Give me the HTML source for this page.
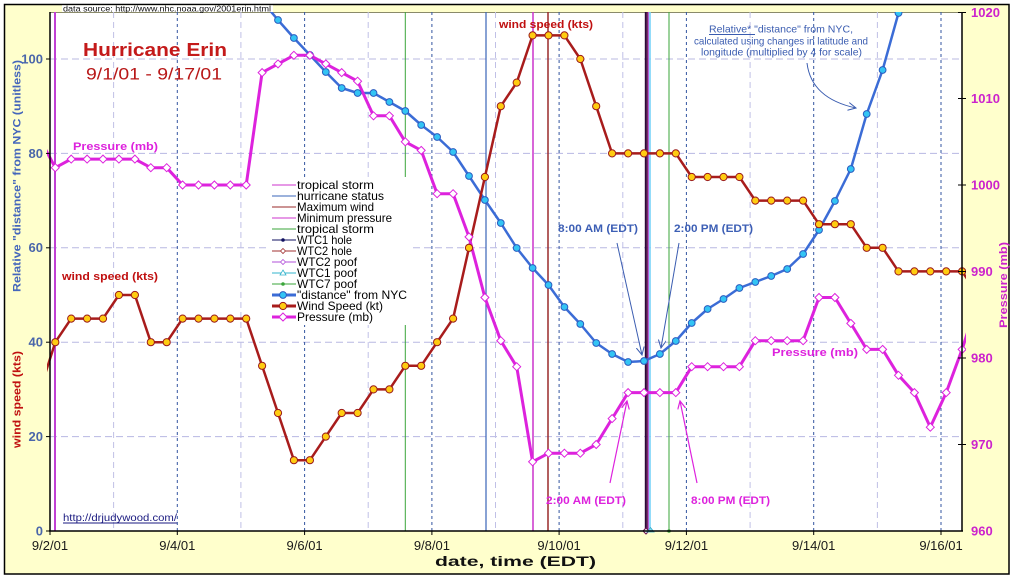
<!DOCTYPE html>
<html><head><meta charset="utf-8"><style>
html,body{margin:0;padding:0;background:#fff;}
svg{display:block;font-family:"Liberation Sans",sans-serif;}
</style></head><body>
<svg width="1015" height="579" viewBox="0 0 1015 579" xmlns="http://www.w3.org/2000/svg">
<defs>
<clipPath id="pc"><rect x="47" y="12" width="919" height="519"/></clipPath>
<symbol id="dm" overflow="visible"><polygon points="0,-4 4,0 0,4 -4,0" fill="#fff" stroke="#dd22dd" stroke-width="1"/></symbol>
<symbol id="wc" overflow="visible"><circle r="3.6" fill="#ffcc11" stroke="#9a1a1a" stroke-width="1"/></symbol>
<symbol id="dc" overflow="visible"><circle r="3.4" fill="#33c4f4" stroke="#2a5cc0" stroke-width="1"/></symbol>
<marker id="ab" markerWidth="10" markerHeight="10" refX="8" refY="4" orient="auto" markerUnits="userSpaceOnUse"><path d="M0,0 L8,4 L0,8" fill="none" stroke="#3a5cb0" stroke-width="1"/></marker>
<marker id="am" markerWidth="10" markerHeight="10" refX="8" refY="4" orient="auto" markerUnits="userSpaceOnUse"><path d="M0,0 L8,4 L0,8" fill="none" stroke="#dd22dd" stroke-width="1.2"/></marker>
</defs>

<!-- frame -->
<rect x="4.5" y="4.5" width="1004.5" height="569.5" fill="#ffffcc" stroke="#000" stroke-width="1.5"/>
<rect x="50" y="12" width="912" height="519" fill="#fff"/>
<line x1="50" y1="12.5" x2="962" y2="12.5" stroke="#8a8a6a" stroke-width="1"/>

<!-- data source box -->
<rect x="62" y="5.3" width="211" height="6.7" fill="#fff"/>
<text x="63" y="11.5" font-size="8.5" fill="#111" textLength="208" lengthAdjust="spacingAndGlyphs">data source: http://www.nhc.noaa.gov/2001erin.html</text>

<!-- horizontal grid -->
<g stroke="#b8b8e2" stroke-width="1" stroke-dasharray="7,4">
<line x1="50" y1="436.6" x2="962" y2="436.6"/>
<line x1="50" y1="342.2" x2="962" y2="342.2"/>
<line x1="50" y1="247.8" x2="962" y2="247.8"/>
<line x1="50" y1="153.4" x2="962" y2="153.4"/>
<line x1="50" y1="59" x2="962" y2="59"/>
</g>
<!-- minor vertical -->
<g stroke="#c0c0e6" stroke-width="1" stroke-dasharray="6,4">
<line x1="113.6" y1="12" x2="113.6" y2="531"/>
<line x1="240.9" y1="12" x2="240.9" y2="531"/>
<line x1="368.2" y1="12" x2="368.2" y2="531"/>
<line x1="495.5" y1="12" x2="495.5" y2="531"/>
<line x1="622.8" y1="12" x2="622.8" y2="531"/>
<line x1="750.1" y1="12" x2="750.1" y2="531"/>
<line x1="877.4" y1="12" x2="877.4" y2="531"/>
</g>
<!-- major vertical -->
<g stroke="#3355a0" stroke-width="1" stroke-dasharray="3,3">
<line x1="177.3" y1="12" x2="177.3" y2="531"/>
<line x1="304.6" y1="12" x2="304.6" y2="531"/>
<line x1="431.9" y1="12" x2="431.9" y2="531"/>
<line x1="559.1" y1="12" x2="559.1" y2="531"/>
<line x1="686.4" y1="12" x2="686.4" y2="531"/>
<line x1="813.7" y1="12" x2="813.7" y2="531"/>
<line x1="941" y1="12" x2="941" y2="531"/>
</g>

<!-- event lines -->
<line x1="55" y1="12" x2="55" y2="531" stroke="#c040d4" stroke-width="2"/>
<line x1="405.3" y1="12" x2="405.3" y2="531" stroke="#3aa53a" stroke-width="1"/>
<line x1="486" y1="12" x2="486" y2="531" stroke="#3a64b8" stroke-width="1.2"/>
<line x1="533" y1="12" x2="533" y2="531" stroke="#cc33cc" stroke-width="1.5"/>
<line x1="548" y1="12" x2="548" y2="531" stroke="#9a2a2a" stroke-width="1.5"/>
<line x1="645.8" y1="12" x2="645.8" y2="531" stroke="#2a0838" stroke-width="2"/>
<line x1="647.3" y1="12" x2="647.3" y2="531" stroke="#6a1050" stroke-width="1.2"/>
<line x1="648.5" y1="12" x2="648.5" y2="531" stroke="#b060d8" stroke-width="1.2"/>
<line x1="650" y1="12" x2="650" y2="531" stroke="#78d4f8" stroke-width="1.6"/>
<line x1="669" y1="12" x2="669" y2="531" stroke="#3aa53a" stroke-width="1"/>
<polygon points="646,528 649,531 646,534 643,531" fill="#fff" stroke="#6a1050" stroke-width="1"/>
<polygon points="650.5,527.5 654,532 647,532" fill="#88e0f0" stroke="#33aacc" stroke-width="0.8"/>
<circle cx="669" cy="531" r="1.8" fill="#3aa53a"/>

<!-- legend -->
<rect x="266" y="177" width="146" height="148" fill="#fff"/>
<g stroke-width="1">
<line x1="272" y1="185" x2="296" y2="185" stroke="#cc33cc"/>
<line x1="272" y1="196" x2="296" y2="196" stroke="#3a64b8"/>
<line x1="272" y1="207" x2="296" y2="207" stroke="#9a2a2a"/>
<line x1="272" y1="218" x2="296" y2="218" stroke="#cc33cc"/>
<line x1="272" y1="229" x2="296" y2="229" stroke="#3aa53a"/>
<line x1="272" y1="240" x2="296" y2="240" stroke="#101060"/>
<line x1="272" y1="251" x2="296" y2="251" stroke="#a03030"/>
<line x1="272" y1="262" x2="296" y2="262" stroke="#b050d8"/>
<line x1="272" y1="273" x2="296" y2="273" stroke="#33b4cc"/>
<line x1="272" y1="284" x2="296" y2="284" stroke="#3aa53a"/>
</g>
<circle cx="283" cy="240" r="1.8" fill="#101060"/>
<polygon points="283,248.5 285.5,251 283,253.5 280.5,251" fill="#fff" stroke="#a03030" stroke-width="0.8"/>
<polygon points="283,259.5 285.5,262 283,264.5 280.5,262" fill="#fff" stroke="#b050d8" stroke-width="0.8"/>
<polygon points="283,270 286,275 280,275" fill="#fff" stroke="#33b4cc" stroke-width="0.8"/>
<circle cx="283" cy="284" r="1.8" fill="#3aa53a"/>
<line x1="272" y1="295" x2="296" y2="295" stroke="#3b6cd6" stroke-width="3"/>
<use href="#dc" x="283" y="295"/>
<line x1="272" y1="306" x2="296" y2="306" stroke="#a81c1c" stroke-width="3"/>
<use href="#wc" x="283" y="306"/>
<line x1="272" y1="317" x2="296" y2="317" stroke="#dd22dd" stroke-width="3"/>
<use href="#dm" x="283" y="317"/>
<g font-size="12" fill="#000">
<text x="297" y="189" textLength="77" lengthAdjust="spacingAndGlyphs">tropical storm</text>
<text x="297" y="200" textLength="87" lengthAdjust="spacingAndGlyphs">hurricane status</text>
<text x="297" y="211" textLength="77" lengthAdjust="spacingAndGlyphs">Maximum wind</text>
<text x="297" y="222" textLength="95" lengthAdjust="spacingAndGlyphs">Minimum pressure</text>
<text x="297" y="233" textLength="77" lengthAdjust="spacingAndGlyphs">tropical storm</text>
<text x="297" y="244" textLength="55" lengthAdjust="spacingAndGlyphs">WTC1 hole</text>
<text x="297" y="255" textLength="55" lengthAdjust="spacingAndGlyphs">WTC2 hole</text>
<text x="297" y="266" textLength="60" lengthAdjust="spacingAndGlyphs">WTC2 poof</text>
<text x="297" y="277" textLength="60" lengthAdjust="spacingAndGlyphs">WTC1 poof</text>
<text x="297" y="288" textLength="60" lengthAdjust="spacingAndGlyphs">WTC7 poof</text>
<text x="297" y="299" textLength="110" lengthAdjust="spacingAndGlyphs">"distance" from NYC</text>
<text x="297" y="310" textLength="86" lengthAdjust="spacingAndGlyphs">Wind Speed (kt)</text>
<text x="297" y="321" textLength="76" lengthAdjust="spacingAndGlyphs">Pressure (mb)</text>
</g>

<!-- series -->
<g clip-path="url(#pc)" fill="none" stroke-linejoin="round">
<polyline stroke="#3b6cd6" stroke-width="2.5" points="262.1,1 278.0,20 293.9,38 309.9,55 325.8,72 341.7,88 357.6,93 373.5,93 389.4,102 405.3,111 421.2,125 437.1,137 453.1,152 469.0,176 484.9,200 500.8,223 516.7,248 532.6,268 548.5,285 564.4,307 580.3,324 596.2,343 612.1,354 628.1,362 644.0,361 659.9,354 675.8,341 691.7,323 707.6,309 723.5,299 739.4,288 755.3,282 771.2,276 787.2,269 803.1,254 819.0,230 834.9,201 850.8,169 866.7,114 882.6,70 898.5,13 914.4,-50"/>
<polyline stroke="#a81c1c" stroke-width="2.5" points="39.4,392 55.3,342.2 71.2,318.6 87.1,318.6 103.0,318.6 118.9,295 134.9,295 150.8,342.2 166.7,342.2 182.6,318.6 198.5,318.6 214.4,318.6 230.3,318.6 246.2,318.6 262.1,365.8 278.0,413 293.9,460.2 309.9,460.2 325.8,436.6 341.7,413 357.6,413 373.5,389.4 389.4,389.4 405.3,365.8 421.2,365.8 437.1,342.2 453.1,318.6 469.0,247.8 484.9,177 500.8,106.2 516.7,82.6 532.6,35.4 548.5,35.4 564.4,35.4 580.3,59 596.2,106.2 612.1,153.4 628.1,153.4 644.0,153.4 659.9,153.4 675.8,153.4 691.7,177 707.6,177 723.5,177 739.4,177 755.3,200.6 771.2,200.6 787.2,200.6 803.1,200.6 819.0,224.2 834.9,224.2 850.8,224.2 866.7,247.8 882.6,247.8 898.5,271.4 914.4,271.4 930.3,271.4 946.2,271.4 962.1,271.4 978.0,295"/>
<polyline stroke="#dd22dd" stroke-width="3" points="39.4,138 55.3,167.7 71.2,159.1 87.1,159.1 103.0,159.1 118.9,159.1 134.9,159.1 150.8,167.7 166.7,167.7 182.6,185 198.5,185 214.4,185 230.3,185 246.2,185 262.1,72.6 278.0,63.9 293.9,55.3 309.9,55.3 325.8,63.9 341.7,72.6 357.6,81.2 373.5,115.8 389.4,115.8 405.3,141.8 421.2,150.4 437.1,193.7 453.1,193.7 469.0,236.9 484.9,297.5 500.8,340.7 516.7,366.7 532.6,461.8 548.5,453.2 564.4,453.2 580.3,453.2 596.2,444.5 612.1,418.6 628.1,392.6 644.0,392.6 659.9,392.6 675.8,392.6 691.7,366.7 707.6,366.7 723.5,366.7 739.4,366.7 755.3,340.7 771.2,340.7 787.2,340.7 803.1,340.7 819.0,297.5 834.9,297.5 850.8,323.4 866.7,349.4 882.6,349.4 898.5,375.3 914.4,392.6 930.3,427.2 946.2,392.6 962.1,349.4 978.0,300"/>
</g>
<g clip-path="url(#pc)">
<!-- distance markers -->
<use href="#dc" x="278.0" y="20"/><use href="#dc" x="293.9" y="38"/><use href="#dc" x="309.9" y="55"/><use href="#dc" x="325.8" y="72"/><use href="#dc" x="341.7" y="88"/><use href="#dc" x="357.6" y="93"/><use href="#dc" x="373.5" y="93"/><use href="#dc" x="389.4" y="102"/><use href="#dc" x="405.3" y="111"/><use href="#dc" x="421.2" y="125"/><use href="#dc" x="437.1" y="137"/><use href="#dc" x="453.1" y="152"/><use href="#dc" x="469.0" y="176"/><use href="#dc" x="484.9" y="200"/><use href="#dc" x="500.8" y="223"/><use href="#dc" x="516.7" y="248"/><use href="#dc" x="532.6" y="268"/><use href="#dc" x="548.5" y="285"/><use href="#dc" x="564.4" y="307"/><use href="#dc" x="580.3" y="324"/><use href="#dc" x="596.2" y="343"/><use href="#dc" x="612.1" y="354"/><use href="#dc" x="628.1" y="362"/><use href="#dc" x="644.0" y="361"/><use href="#dc" x="659.9" y="354"/><use href="#dc" x="675.8" y="341"/><use href="#dc" x="691.7" y="323"/><use href="#dc" x="707.6" y="309"/><use href="#dc" x="723.5" y="299"/><use href="#dc" x="739.4" y="288"/><use href="#dc" x="755.3" y="282"/><use href="#dc" x="771.2" y="276"/><use href="#dc" x="787.2" y="269"/><use href="#dc" x="803.1" y="254"/><use href="#dc" x="819.0" y="230"/><use href="#dc" x="834.9" y="201"/><use href="#dc" x="850.8" y="169"/><use href="#dc" x="866.7" y="114"/><use href="#dc" x="882.6" y="70"/><use href="#dc" x="898.5" y="13"/>
<!-- wind markers -->
<use href="#wc" x="55.3" y="342.2"/><use href="#wc" x="71.2" y="318.6"/><use href="#wc" x="87.1" y="318.6"/><use href="#wc" x="103.0" y="318.6"/><use href="#wc" x="118.9" y="295"/><use href="#wc" x="134.9" y="295"/><use href="#wc" x="150.8" y="342.2"/><use href="#wc" x="166.7" y="342.2"/><use href="#wc" x="182.6" y="318.6"/><use href="#wc" x="198.5" y="318.6"/><use href="#wc" x="214.4" y="318.6"/><use href="#wc" x="230.3" y="318.6"/><use href="#wc" x="246.2" y="318.6"/><use href="#wc" x="262.1" y="365.8"/><use href="#wc" x="278.0" y="413"/><use href="#wc" x="293.9" y="460.2"/><use href="#wc" x="309.9" y="460.2"/><use href="#wc" x="325.8" y="436.6"/><use href="#wc" x="341.7" y="413"/><use href="#wc" x="357.6" y="413"/><use href="#wc" x="373.5" y="389.4"/><use href="#wc" x="389.4" y="389.4"/><use href="#wc" x="405.3" y="365.8"/><use href="#wc" x="421.2" y="365.8"/><use href="#wc" x="437.1" y="342.2"/><use href="#wc" x="453.1" y="318.6"/><use href="#wc" x="469.0" y="247.8"/><use href="#wc" x="484.9" y="177"/><use href="#wc" x="500.8" y="106.2"/><use href="#wc" x="516.7" y="82.6"/><use href="#wc" x="532.6" y="35.4"/><use href="#wc" x="548.5" y="35.4"/><use href="#wc" x="564.4" y="35.4"/><use href="#wc" x="580.3" y="59"/><use href="#wc" x="596.2" y="106.2"/><use href="#wc" x="612.1" y="153.4"/><use href="#wc" x="628.1" y="153.4"/><use href="#wc" x="644.0" y="153.4"/><use href="#wc" x="659.9" y="153.4"/><use href="#wc" x="675.8" y="153.4"/><use href="#wc" x="691.7" y="177"/><use href="#wc" x="707.6" y="177"/><use href="#wc" x="723.5" y="177"/><use href="#wc" x="739.4" y="177"/><use href="#wc" x="755.3" y="200.6"/><use href="#wc" x="771.2" y="200.6"/><use href="#wc" x="787.2" y="200.6"/><use href="#wc" x="803.1" y="200.6"/><use href="#wc" x="819.0" y="224.2"/><use href="#wc" x="834.9" y="224.2"/><use href="#wc" x="850.8" y="224.2"/><use href="#wc" x="866.7" y="247.8"/><use href="#wc" x="882.6" y="247.8"/><use href="#wc" x="898.5" y="271.4"/><use href="#wc" x="914.4" y="271.4"/><use href="#wc" x="930.3" y="271.4"/><use href="#wc" x="946.2" y="271.4"/><use href="#wc" x="962.1" y="271.4"/>
<!-- pressure markers -->
<use href="#dm" x="55.3" y="167.7"/><use href="#dm" x="71.2" y="159.1"/><use href="#dm" x="87.1" y="159.1"/><use href="#dm" x="103.0" y="159.1"/><use href="#dm" x="118.9" y="159.1"/><use href="#dm" x="134.9" y="159.1"/><use href="#dm" x="150.8" y="167.7"/><use href="#dm" x="166.7" y="167.7"/><use href="#dm" x="182.6" y="185"/><use href="#dm" x="198.5" y="185"/><use href="#dm" x="214.4" y="185"/><use href="#dm" x="230.3" y="185"/><use href="#dm" x="246.2" y="185"/><use href="#dm" x="262.1" y="72.6"/><use href="#dm" x="278.0" y="63.9"/><use href="#dm" x="293.9" y="55.3"/><use href="#dm" x="309.9" y="55.3"/><use href="#dm" x="325.8" y="63.9"/><use href="#dm" x="341.7" y="72.6"/><use href="#dm" x="357.6" y="81.2"/><use href="#dm" x="373.5" y="115.8"/><use href="#dm" x="389.4" y="115.8"/><use href="#dm" x="405.3" y="141.8"/><use href="#dm" x="421.2" y="150.4"/><use href="#dm" x="437.1" y="193.7"/><use href="#dm" x="453.1" y="193.7"/><use href="#dm" x="469.0" y="236.9"/><use href="#dm" x="484.9" y="297.5"/><use href="#dm" x="500.8" y="340.7"/><use href="#dm" x="516.7" y="366.7"/><use href="#dm" x="532.6" y="461.8"/><use href="#dm" x="548.5" y="453.2"/><use href="#dm" x="564.4" y="453.2"/><use href="#dm" x="580.3" y="453.2"/><use href="#dm" x="596.2" y="444.5"/><use href="#dm" x="612.1" y="418.6"/><use href="#dm" x="628.1" y="392.6"/><use href="#dm" x="644.0" y="392.6"/><use href="#dm" x="659.9" y="392.6"/><use href="#dm" x="675.8" y="392.6"/><use href="#dm" x="691.7" y="366.7"/><use href="#dm" x="707.6" y="366.7"/><use href="#dm" x="723.5" y="366.7"/><use href="#dm" x="739.4" y="366.7"/><use href="#dm" x="755.3" y="340.7"/><use href="#dm" x="771.2" y="340.7"/><use href="#dm" x="787.2" y="340.7"/><use href="#dm" x="803.1" y="340.7"/><use href="#dm" x="819.0" y="297.5"/><use href="#dm" x="834.9" y="297.5"/><use href="#dm" x="850.8" y="323.4"/><use href="#dm" x="866.7" y="349.4"/><use href="#dm" x="882.6" y="349.4"/><use href="#dm" x="898.5" y="375.3"/><use href="#dm" x="914.4" y="392.6"/><use href="#dm" x="930.3" y="427.2"/><use href="#dm" x="946.2" y="392.6"/><use href="#dm" x="962.1" y="349.4"/>
</g>

<!-- axes -->
<g stroke="#000" stroke-width="1.5">
<line x1="50" y1="12" x2="50" y2="531.5"/>
<line x1="49" y1="531" x2="963" y2="531"/>
<line x1="962" y1="12" x2="962" y2="531.5"/>
</g>
<g stroke="#000" stroke-width="1">
<line x1="46" y1="531" x2="50" y2="531"/><line x1="46" y1="436.6" x2="50" y2="436.6"/><line x1="46" y1="342.2" x2="50" y2="342.2"/><line x1="46" y1="247.8" x2="50" y2="247.8"/><line x1="46" y1="153.4" x2="50" y2="153.4"/><line x1="46" y1="59" x2="50" y2="59"/>
<line x1="958" y1="12.5" x2="966" y2="12.5"/><line x1="958" y1="98.5" x2="966" y2="98.5"/><line x1="958" y1="185" x2="966" y2="185"/><line x1="958" y1="271.5" x2="966" y2="271.5"/><line x1="958" y1="358" x2="966" y2="358"/><line x1="958" y1="444.5" x2="966" y2="444.5"/>
<line x1="50" y1="531" x2="50" y2="535"/><line x1="177.3" y1="531" x2="177.3" y2="535"/><line x1="304.6" y1="531" x2="304.6" y2="535"/><line x1="431.9" y1="531" x2="431.9" y2="535"/><line x1="559.1" y1="531" x2="559.1" y2="535"/><line x1="686.4" y1="531" x2="686.4" y2="535"/><line x1="813.7" y1="531" x2="813.7" y2="535"/><line x1="941" y1="531" x2="941" y2="535"/>
</g>

<!-- left tick labels -->
<g font-size="13" font-weight="bold" fill="#4a66aa" text-anchor="end">
<text x="43" y="535.5">0</text>
<text x="43" y="441">20</text>
<text x="43" y="346.5">40</text>
<text x="43" y="252">60</text>
<text x="43" y="158">80</text>
<text x="43" y="63.5">100</text>
</g>
<!-- right tick labels -->
<g font-size="13" font-weight="bold" fill="#cc22cc">
<text x="971" y="17">1020</text>
<text x="971" y="103">1010</text>
<text x="971" y="189.5">1000</text>
<text x="971" y="276">990</text>
<text x="971" y="362.5">980</text>
<text x="971" y="449">970</text>
<text x="971" y="535.5">960</text>
</g>
<!-- x tick labels -->
<g font-size="13" fill="#1a1a1a" text-anchor="middle">
<text x="50" y="550">9/2/01</text>
<text x="177.3" y="550">9/4/01</text>
<text x="304.6" y="550">9/6/01</text>
<text x="431.9" y="550">9/8/01</text>
<text x="559.1" y="550">9/10/01</text>
<text x="686.4" y="550">9/12/01</text>
<text x="813.7" y="550">9/14/01</text>
<text x="941" y="550">9/16/01</text>
</g>
<text x="435" y="566" font-size="14" font-weight="bold" fill="#111" textLength="161" lengthAdjust="spacingAndGlyphs">date, time (EDT)</text>

<!-- axis titles -->
<text transform="translate(20.5,292) rotate(-90)" font-size="11" font-weight="bold" fill="#4466bb" textLength="232" lengthAdjust="spacingAndGlyphs">Relative "distance" from NYC (unitless)</text>
<text transform="translate(20.5,448) rotate(-90)" font-size="11" font-weight="bold" fill="#c01010" textLength="97" lengthAdjust="spacingAndGlyphs">wind speed (kts)</text>
<text transform="translate(1007,328) rotate(-90)" font-size="11" font-weight="bold" fill="#cc22cc" textLength="86" lengthAdjust="spacingAndGlyphs">Pressure (mb)</text>

<!-- titles & annotations -->
<text x="83" y="56" font-size="18" font-weight="bold" fill="#c41a1a" textLength="144" lengthAdjust="spacingAndGlyphs">Hurricane Erin</text>
<text x="86" y="79.5" font-size="16.5" fill="#b81818" textLength="136" lengthAdjust="spacingAndGlyphs">9/1/01 - 9/17/01</text>
<text x="73" y="150" font-size="11" font-weight="bold" fill="#dd22dd" textLength="85" lengthAdjust="spacingAndGlyphs">Pressure (mb)</text>
<text x="62" y="280" font-size="11" font-weight="bold" fill="#c01010" textLength="96" lengthAdjust="spacingAndGlyphs">wind speed (kts)</text>
<text x="499" y="28" font-size="11" font-weight="bold" fill="#c01010" textLength="94" lengthAdjust="spacingAndGlyphs">wind speed (kts)</text>
<text x="772" y="356" font-size="11" font-weight="bold" fill="#dd22dd" textLength="86" lengthAdjust="spacingAndGlyphs">Pressure (mb)</text>

<g font-size="11" font-weight="bold" fill="#3d5fb5">
<text x="558" y="232" textLength="80" lengthAdjust="spacingAndGlyphs">8:00 AM (EDT)</text>
<text x="674" y="232" textLength="79" lengthAdjust="spacingAndGlyphs">2:00 PM (EDT)</text>
</g>
<g font-size="11" font-weight="bold" fill="#dd22dd">
<text x="546" y="504" textLength="80" lengthAdjust="spacingAndGlyphs">2:00 AM (EDT)</text>
<text x="691" y="504" textLength="79" lengthAdjust="spacingAndGlyphs">8:00 PM (EDT)</text>
</g>
<g fill="none">
<line x1="617" y1="243" x2="642" y2="355" stroke="#3a5cb0" stroke-width="1" marker-end="url(#ab)"/>
<line x1="679" y1="243" x2="661" y2="348" stroke="#3a5cb0" stroke-width="1" marker-end="url(#ab)"/>
<line x1="610" y1="483" x2="627" y2="401" stroke="#dd22dd" stroke-width="1.2" marker-end="url(#am)"/>
<line x1="697" y1="483" x2="680" y2="401" stroke="#dd22dd" stroke-width="1.2" marker-end="url(#am)"/>
<path d="M807,63 C810,88 828,102 856,108" stroke="#3a5cb0" stroke-width="1" marker-end="url(#ab)"/>
</g>

<g font-size="10.5" fill="#3a5cb0">
<text x="709" y="32.5" textLength="144" lengthAdjust="spacingAndGlyphs">Relative* "distance" from NYC,</text>
<text x="694" y="44.5" textLength="174" lengthAdjust="spacingAndGlyphs">calculated using changes in latitude and</text>
<text x="701" y="55.5" textLength="161" lengthAdjust="spacingAndGlyphs">longitude (multiplied by 4 for scale)</text>
</g>
<line x1="709" y1="34.5" x2="755" y2="34.5" stroke="#3a5cb0" stroke-width="1"/>

<text x="63" y="521" font-size="10" fill="#1a1a80" textLength="114" lengthAdjust="spacingAndGlyphs">http://drjudywood.com/</text>
<line x1="63" y1="523" x2="177" y2="523" stroke="#1a1a80" stroke-width="1"/>
</svg>
</body></html>
